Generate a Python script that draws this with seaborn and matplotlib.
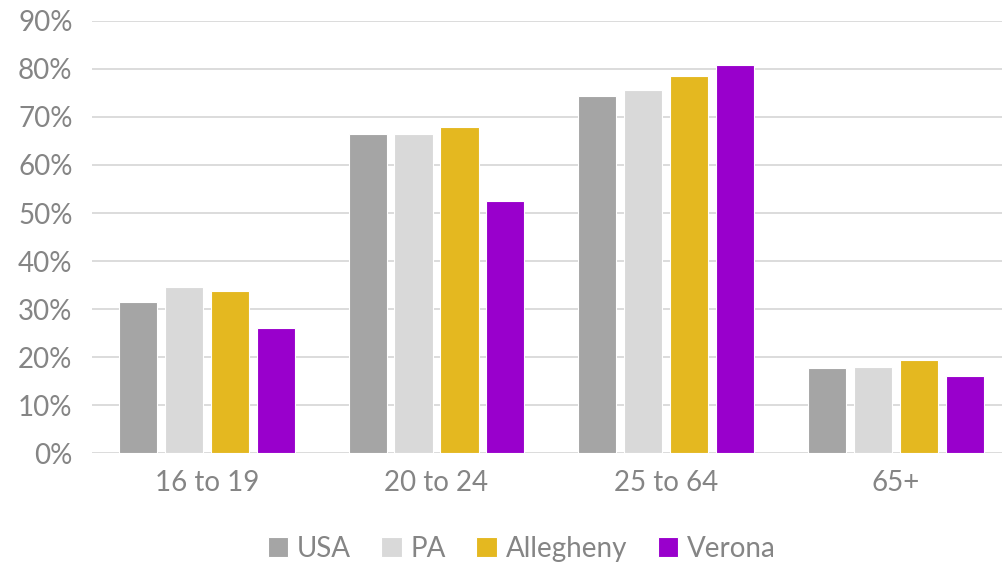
import pandas as pd
import matplotlib.pyplot as plt
import seaborn as sns
from matplotlib.ticker import PercentFormatter

# Data
age_groups = ["16 to 19", "20 to 24", "25 to 64", "65+"]
regions = ["USA", "PA", "Allegheny", "Verona"]
usa = [0.315, 0.665, 0.744, 0.177]
pa = [0.346, 0.665, 0.756, 0.179]
allegheny = [0.337, 0.679, 0.786, 0.193]
verona = [0.260, 0.524, 0.808, 0.160]
colors = ["#A5A5A5", "#D9D9D9", "#E4B820", "#9900CC"]

rows = []
for region, vals in zip(regions, [usa, pa, allegheny, verona]):
    for grp, v in zip(age_groups, vals):
        rows.append({"Age": grp, "Region": region, "Rate": v})
df = pd.DataFrame(rows)

sns.set_theme(style="white")
plt.rcParams["font.family"] = ["Lato", "DejaVu Sans"]
text_color = "#858585"

fig = plt.figure(figsize=(10.03, 5.67), dpi=100)
ax = fig.add_axes([0.0917, 0.201, 0.916, 0.762])

sns.barplot(data=df, x="Age", y="Rate", hue="Region", order=age_groups,
            hue_order=regions, palette=colors, saturation=1, width=0.8,
            gap=0.17, edgecolor="white", linewidth=0.8, ax=ax, zorder=3)

ax.set_ylim(0, 0.9)
ax.set_yticks([i / 10 for i in range(10)])
ax.yaxis.set_major_formatter(PercentFormatter(1.0, decimals=0))
ax.grid(axis="y", color="#D9D9D9", linewidth=1.3, zorder=0)
ax.set_axisbelow(True)
for s in ax.spines.values():
    s.set_visible(False)
ax.set_xlabel("")
ax.set_ylabel("")
ax.tick_params(axis="both", length=0, labelsize=20, colors=text_color)
ax.tick_params(axis="x", pad=12)
ax.tick_params(axis="y", pad=14)

ax.legend_.remove()
handles, labels = ax.get_legend_handles_labels()
fig.legend(handles, labels, loc="center", bbox_to_anchor=(0.52, 0.032),
           ncol=4, frameon=False, fontsize=20, labelcolor=text_color,
           handlelength=0.75, handleheight=0.75, handletextpad=0.3,
           columnspacing=1.1)

fig.savefig("out.png", dpi=100)
